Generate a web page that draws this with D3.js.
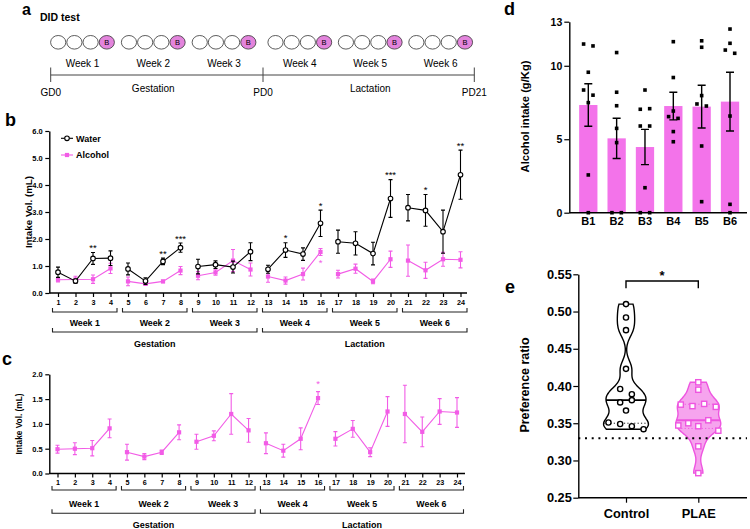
<!DOCTYPE html>
<html>
<head>
<meta charset="utf-8">
<script src="https://cdn.jsdelivr.net/npm/d3@7"></script>
<style>
  body { margin: 0; background: #fff; }
</style>
</head>
<body>
<svg id="fig" width="750" height="529"></svg>
<script>
// ---- data ----
const weekNames = ["Week 1", "Week 2", "Week 3", "Week 4", "Week 5", "Week 6"];
const phaseNames = ["Gestation", "Lactation"];
const timelineLabels = ["GD0", "PD0", "PD21"];
const timelineDays = [0, 21, 42];

const sessions = [1, 2, 3, 4, 5, 6, 7, 8, 9, 10, 11, 12, 13, 14, 15, 16, 17, 18, 19, 20, 21, 22, 23, 24];
const waterMean = [0.77, 0.44, 1.28, 1.29, 0.89, 0.44, 1.17, 1.68, 0.98, 1.05, 0.96, 1.53,
                   0.88, 1.59, 1.44, 2.58, 1.90, 1.84, 1.46, 3.50, 3.16, 3.06, 2.27, 4.38];
const waterErr = [0.19, 0.08, 0.22, 0.27, 0.22, 0.12, 0.12, 0.17, 0.27, 0.14, 0.22, 0.33,
                  0.15, 0.27, 0.23, 0.49, 0.43, 0.43, 0.42, 0.70, 0.49, 0.59, 0.80, 0.91];
const alcMean = [0.49, 0.50, 0.51, 0.91, 0.43, 0.34, 0.43, 0.83, 0.64, 0.76, 1.20, 0.87,
                 0.61, 0.46, 0.70, 1.52, 0.70, 0.90, 0.43, 1.25, 1.20, 0.84, 1.25, 1.23];
const alcErr = [0.08, 0.12, 0.155, 0.19, 0.16, 0.06, 0.045, 0.15, 0.15, 0.10, 0.41, 0.24,
                0.21, 0.13, 0.22, 0.13, 0.145, 0.17, 0.09, 0.30, 0.58, 0.30, 0.26, 0.30];
const sigSessions = [3, 7, 8, 14, 16, 20, 22, 24];
const sigLabels = ["**", "**", "***", "*", "*", "***", "*", "**"];
const alcSigSession = 16;

const bingeLabels = ["B1", "B2", "B3", "B4", "B5", "B6"];
const bingeMean = [7.33, 5.06, 4.47, 7.26, 7.22, 7.56];
const bingeErr = [1.45, 1.37, 1.20, 0.94, 1.45, 2.00];
const bingePoints = [
  [11.48, 11.35, 9.56, 8.35, 8.00, 7.49, 2.57, 0],
  [10.90, 8.20, 7.28, 5.74, 4.77, 0, 0],
  [8.35, 7.04, 7.08, 5.90, 5.90, 1.70, 0, 0],
  [11.64, 9.20, 6.92, 6.54, 6.42, 5.52, 4.83],
  [11.70, 11.26, 7.97, 7.40, 7.26, 4.54, 0.75],
  [12.50, 11.53, 11.07, 10.85, 6.58, 0.57, 0]
];
const bingeTicks = [0, 5, 10, 13];

const groupNames = ["Control", "PLAE"];
const controlRatio = [0.510, 0.492, 0.475, 0.423, 0.396, 0.389, 0.378, 0.381, 0.367, 0.351, 0.349, 0.346, 0.342];
const plaeRatio = [0.405, 0.395, 0.375, 0.373, 0.376, 0.372, 0.347, 0.350, 0.346, 0.354, 0.340, 0.319, 0.283];
const ratioTicks = [0.25, 0.30, 0.35, 0.40, 0.45, 0.50, 0.55];
const chanceRatio = 0.33;

// ---- setup ----
const FONT = "'Liberation Sans', Arial, Helvetica, sans-serif";
const PINK = "#f25ce6";
const BAR_PINK = "#f373ea";
const svg = d3.select("#fig").attr("font-family", FONT);

function panelLetter(x, y, t, size) {
  svg.append("text").attr("x", x).attr("y", y).text(t)
    .attr("font-size", size || 18).attr("font-weight", "bold");
}

function styleAxis(g, size) {
  g.attr("font-family", FONT).attr("font-size", size).attr("font-weight", "bold");
  g.selectAll(".domain").attr("stroke", "#000").attr("stroke-width", 1.4);
  g.selectAll(".tick line").attr("stroke", "#000").attr("stroke-width", 1.2);
  g.selectAll(".tick text").attr("fill", "#000");
}

// bracket drawn as a horizontal line with short upturned ends
function bracket(g, x0, x1, y, h) {
  g.append("path")
    .attr("d", `M${x0},${y - h}V${y}H${x1}V${y - h}`)
    .attr("fill", "none").attr("stroke", "#222").attr("stroke-width", 1.1);
}

// ---- a. timeline ----
panelLetter(22, 15, "a", 16);
svg.append("text").attr("x", 40).attr("y", 21).text("DID test")
  .attr("font-size", 10.5).attr("font-weight", "bold");

const tA = d3.scaleLinear().domain([0, 21, 42]).range([50.7, 263, 474.3]);
const gA = svg.append("g");
weekNames.forEach((w, i) => {
  const left = tA(i * 7) + (i >= 3 ? 5 : 0);
  for (let j = 0; j < 4; j++) {
    const cx = left + 7.5 + j * 16.2;
    gA.append("ellipse").attr("cx", cx).attr("cy", 42.3).attr("rx", 7.6).attr("ry", 6.8)
      .attr("fill", j === 3 ? "#e384dc" : "#fff").attr("stroke", "#333").attr("stroke-width", 0.8);
    if (j === 3) {
      gA.append("text").attr("x", cx).attr("y", 45).text("B")
        .attr("text-anchor", "middle").attr("font-size", 7.5);
    }
  }
  gA.append("text").attr("x", left + 31.8).attr("y", 66.5).text(w)
    .attr("text-anchor", "middle").attr("font-size", 10);
  if (i === 1 || i === 4) {
    gA.append("text").attr("x", left + 31.8).attr("y", 92.3).text(phaseNames[i === 1 ? 0 : 1])
      .attr("text-anchor", "middle").attr("font-size", 10);
  }
});
gA.append("line").attr("x1", tA(0)).attr("x2", tA(42)).attr("y1", 75).attr("y2", 75)
  .attr("stroke", "#444").attr("stroke-width", 1);
timelineDays.forEach((d, i) => {
  gA.append("line").attr("x1", tA(d)).attr("x2", tA(d)).attr("y1", 67.5).attr("y2", 82)
    .attr("stroke", "#444").attr("stroke-width", 1);
  gA.append("text").attr("x", tA(d)).attr("y", 95.5).text(timelineLabels[i])
    .attr("text-anchor", "middle").attr("font-size", 10);
});

// ---- shared drawing for b and c ----
function drawSeries(g, x, y, mean, err, color, marker) {
  weekNames.forEach((w, wi) => {
    const idx = [0, 1, 2, 3].map(k => wi * 4 + k);
    g.append("path")
      .datum(idx)
      .attr("d", d3.line().x(i => x(sessions[i])).y(i => y(mean[i])))
      .attr("fill", "none").attr("stroke", color).attr("stroke-width", 1.1);
  });
  sessions.forEach((s, i) => {
    const cx = x(s), top = y(mean[i] + err[i]), bot = y(mean[i] - err[i]);
    g.append("path")
      .attr("d", `M${cx},${top}V${bot}M${cx - 2},${top}H${cx + 2}M${cx - 2},${bot}H${cx + 2}`)
      .attr("stroke", color).attr("stroke-width", 1.1).attr("fill", "none");
    if (marker === "circle") {
      g.append("circle").attr("cx", cx).attr("cy", y(mean[i])).attr("r", 2.3)
        .attr("fill", "#fff").attr("stroke", color).attr("stroke-width", 1.1);
    } else {
      g.append("rect").attr("x", cx - 2.1).attr("y", y(mean[i]) - 2.1)
        .attr("width", 4.2).attr("height", 4.2).attr("fill", color);
    }
  });
}

function drawSessionAxis(g, x, y0, axisEnd, tickFont, yWeek, yPhase, weekLabelY, phaseLabelY) {
  g.append("line").attr("x1", 49.3).attr("x2", axisEnd).attr("y1", y0).attr("y2", y0)
    .attr("stroke", "#000").attr("stroke-width", 1.4);
  const ax = g.append("g").attr("transform", `translate(0,${y0})`)
    .call(d3.axisBottom(x).tickValues(sessions).tickSize(4).tickSizeOuter(0).tickPadding(2.5));
  ax.select(".domain").remove();
  styleAxis(ax, tickFont);
  weekNames.forEach((w, wi) => {
    const x0 = x(sessions[wi * 4]) - 5.5, x1 = x(sessions[wi * 4 + 3]) + 6.5;
    bracket(g, x0, x1, yWeek, 4);
    g.append("text").attr("x", (x0 + x1) / 2).attr("y", weekLabelY).text(w)
      .attr("text-anchor", "middle").attr("font-size", 8.8).attr("font-weight", "bold");
  });
  phaseNames.forEach((p, pi) => {
    const x0 = x(sessions[pi * 12]) - 5.5, x1 = x(sessions[pi * 12 + 11]) + 6.5;
    bracket(g, x0, x1, yPhase, 4);
    g.append("text").attr("x", (x0 + x1) / 2).attr("y", phaseLabelY).text(p)
      .attr("text-anchor", "middle").attr("font-size", 9).attr("font-weight", "bold");
  });
}

// ---- b. intake volume, water vs alcohol ----
panelLetter(5, 125.7, "b");
const gB = svg.append("g");
const xB = d3.scaleLinear().domain([1, 24]).range([58, 460.5]);
const yB = d3.scaleLinear().domain([0, 6]).range([293, 131]);

const yAxB = gB.append("g").attr("transform", "translate(49.3,0)")
  .call(d3.axisLeft(yB).tickValues([0, 1, 2, 3, 4, 5, 6]).tickSize(4).tickSizeOuter(0).tickPadding(2.5));
styleAxis(yAxB, 7.5);
drawSessionAxis(gB, xB, 293, 467, 7.2, 312, 332, 326, 346.5);

gB.append("text").attr("transform", "translate(31.5,212) rotate(-90)")
  .attr("text-anchor", "middle").text("Intake Vol. (mL)")
  .attr("font-size", 9.8).attr("font-weight", "bold");

drawSeries(gB, xB, yB, alcMean, alcErr, PINK, "square");
drawSeries(gB, xB, yB, waterMean, waterErr, "#000", "circle");

sigSessions.forEach((s, k) => {
  const i = sessions.indexOf(s);
  gB.append("text").attr("x", xB(s)).attr("y", yB(waterMean[i] + waterErr[i]) - 1.5)
    .text(sigLabels[k]).attr("text-anchor", "middle").attr("font-size", 9.5);
});
{
  const i = sessions.indexOf(alcSigSession);
  gB.append("text").attr("x", xB(alcSigSession)).attr("y", yB(alcMean[i] - alcErr[i]) + 11)
    .text("*").attr("text-anchor", "middle").attr("font-size", 9.5).attr("fill", PINK);
}

// legend
const legB = gB.append("g");
[["Water", "#000", "circle", 138.3], ["Alcohol", PINK, "square", 155]].forEach(([name, col, m, ly]) => {
  legB.append("line").attr("x1", 61).attr("x2", 73).attr("y1", ly).attr("y2", ly)
    .attr("stroke", col).attr("stroke-width", 1.1);
  if (m === "circle") {
    legB.append("circle").attr("cx", 67).attr("cy", ly).attr("r", 2.3)
      .attr("fill", "#fff").attr("stroke", col).attr("stroke-width", 1.1);
  } else {
    legB.append("rect").attr("x", 64.9).attr("y", ly - 2.1).attr("width", 4.2).attr("height", 4.2).attr("fill", col);
  }
  legB.append("text").attr("x", 76).attr("y", ly + 3.2).text(name)
    .attr("font-size", 9).attr("font-weight", "bold");
});

// ---- c. alcohol intake volume only ----
panelLetter(2, 365, "c");
const gC = svg.append("g");
const xC = d3.scaleLinear().domain([1, 24]).range([57.5, 457]);
const yC = d3.scaleLinear().domain([0, 2]).range([473.5, 374.3]);

const yAxC = gC.append("g").attr("transform", "translate(49.3,0)")
  .call(d3.axisLeft(yC).tickValues([0, 0.5, 1, 1.5, 2]).tickFormat(d3.format(".1f"))
    .tickSize(4).tickSizeOuter(0).tickPadding(2.5));
styleAxis(yAxC, 7.5);
drawSessionAxis(gC, xC, 473.5, 465, 7.2, 490, 513.3, 506.5, 528);

gC.append("text").attr("transform", "translate(21.5,424) rotate(-90)")
  .attr("text-anchor", "middle").text("Intake Vol. (mL)")
  .attr("font-size", 8.3).attr("font-weight", "bold");

drawSeries(gC, xC, yC, alcMean, alcErr, PINK, "square");
{
  const i = sessions.indexOf(alcSigSession);
  gC.append("text").attr("x", xC(alcSigSession)).attr("y", yC(alcMean[i] + alcErr[i]) - 5)
    .text("*").attr("text-anchor", "middle").attr("font-size", 9.5).attr("fill", PINK);
}

// spread points that sit too close vertically, side by side
function spreadOffsets(values, yScale, minGap, step, maxHalf) {
  const order = d3.range(values.length).sort((i, j) => values[j] - values[i]);
  const groups = [];
  let cur = [order[0]];
  for (let k = 1; k < order.length; k++) {
    const prev = order[k - 1], i = order[k];
    if (Math.abs(yScale(values[prev]) - yScale(values[i])) < minGap) cur.push(i);
    else { groups.push(cur); cur = [i]; }
  }
  groups.push(cur);
  const off = new Array(values.length).fill(0);
  groups.forEach(gr => {
    gr.sort((a, b) => a - b);
    const s = gr.length > 1 ? Math.min(step, 2 * maxHalf / (gr.length - 1)) : 0;
    gr.forEach((i, k) => off[i] = (k - (gr.length - 1) / 2) * s);
  });
  return off;
}

// ---- d. alcohol intake per binge ----
panelLetter(504, 15, "d");
const gD = svg.append("g");
const xD = d3.scalePoint().domain(bingeLabels).range([588.3, 730]);
const yD = d3.scaleLinear().domain([0, 13]).range([212.7, 21.7]);
const barW = 18.3;

gD.selectAll("rect.bar").data(bingeLabels).enter().append("rect")
  .attr("class", "bar")
  .attr("x", d => xD(d) - barW / 2).attr("width", barW)
  .attr("y", (d, i) => yD(bingeMean[i]))
  .attr("height", (d, i) => yD(0) - yD(bingeMean[i]))
  .attr("fill", BAR_PINK);

bingeLabels.forEach((b, i) => {
  const cx = xD(b), top = yD(bingeMean[i] + bingeErr[i]), bot = yD(bingeMean[i] - bingeErr[i]);
  gD.append("path")
    .attr("d", `M${cx},${top}V${bot}M${cx - 4},${top}H${cx + 4}M${cx - 4},${bot}H${cx + 4}`)
    .attr("stroke", "#000").attr("stroke-width", 1.4).attr("fill", "none");
  const off = spreadOffsets(bingePoints[i], yD, 5.3, 9.4, 10);
  bingePoints[i].forEach((v, k) => {
    gD.append("rect").attr("x", cx + off[k] - 1.8).attr("y", yD(v) - 1.8)
      .attr("width", 3.6).attr("height", 3.6).attr("fill", "#000");
  });
});

const yAxD = gD.append("g").attr("transform", "translate(569.3,0)")
  .call(d3.axisLeft(yD).tickValues(bingeTicks).tickSize(5).tickSizeOuter(0).tickPadding(2));
styleAxis(yAxD, 10.5);
gD.append("line").attr("x1", 569.3).attr("x2", 747).attr("y1", 212.7).attr("y2", 212.7)
  .attr("stroke", "#000").attr("stroke-width", 1.4);
gD.selectAll("text.blabel").data(bingeLabels).enter().append("text")
  .attr("x", d => xD(d)).attr("y", 224.5).text(d => d)
  .attr("text-anchor", "middle").attr("font-size", 11).attr("font-weight", "bold");
gD.append("text").attr("transform", "translate(529,116.5) rotate(-90)")
  .attr("text-anchor", "middle").text("Alcohol intake (g/Kg)")
  .attr("font-size", 11.2).attr("font-weight", "bold");

// ---- e. preference ratio violins ----
panelLetter(505, 292.5, "e");
const gE = svg.append("g");
const xE = d3.scalePoint().domain(groupNames).range([626, 698.3]);
const yE = d3.scaleLinear().domain([0.25, 0.55]).range([497.7, 274.3]);

function kdeAt(values, h) {
  return v => d3.sum(values, x => Math.exp(-0.5 * ((v - x) / h) ** 2));
}
function quartile(values, p) {
  const s = values.slice().sort(d3.ascending);
  const pos = (s.length + 1) * p - 1;
  const lo = Math.floor(pos), hi = Math.ceil(pos);
  return s[lo] + (s[hi] - s[lo]) * (pos - lo);
}

function violin(values, name, stroke, fill, markerFn) {
  const cx = xE(name);
  const dens = kdeAt(values, 0.011);
  const lo = d3.min(values), hi = d3.max(values);
  const grid = d3.range(0, 81).map(k => lo + (hi - lo) * k / 80).map(v => [v, dens(v)]);
  const w = d3.scaleLinear().domain([0, d3.max(grid, d => d[1])]).range([0, 22.5]);
  gE.append("path").datum(grid)
    .attr("d", d3.area().curve(d3.curveBasis)
      .y(d => yE(d[0])).x0(d => cx - w(d[1])).x1(d => cx + w(d[1])))
    .attr("fill", fill).attr("stroke", stroke).attr("stroke-width", 1.4);
  [0.25, 0.75].forEach(p => {
    const q = quartile(values, p);
    gE.append("line").attr("x1", cx - w(dens(q))).attr("x2", cx + w(dens(q)))
      .attr("y1", yE(q)).attr("y2", yE(q))
      .attr("stroke", stroke).attr("stroke-width", 0.9).attr("stroke-dasharray", "1.2,2.2");
  });
  const med = quartile(values, 0.5);
  gE.append("line").attr("x1", cx - w(dens(med))).attr("x2", cx + w(dens(med)))
    .attr("y1", yE(med)).attr("y2", yE(med))
    .attr("stroke", stroke).attr("stroke-width", 1.8);
  const off = spreadOffsets(values, yE, 5.6, 11.7, 20);
  values.forEach((v, k) => markerFn(cx + off[k], yE(v)));
}

violin(controlRatio, "Control", "#000", "#fff", (x, y) => {
  gE.append("circle").attr("cx", x).attr("cy", y).attr("r", 2.6)
    .attr("fill", "#fff").attr("stroke", "#000").attr("stroke-width", 1.4);
});
violin(plaeRatio, "PLAE", "#ee55e0", "#f6a4ee", (x, y) => {
  gE.append("rect").attr("x", x - 2.6).attr("y", y - 2.6).attr("width", 5.2).attr("height", 5.2)
    .attr("fill", "#fff").attr("stroke", "#ee55e0").attr("stroke-width", 1.4);
});

gE.append("line").attr("x1", 578.3).attr("x2", 747).attr("y1", yE(chanceRatio)).attr("y2", yE(chanceRatio))
  .attr("stroke", "#000").attr("stroke-width", 2).attr("stroke-dasharray", "2,4.7");

const yAxE = gE.append("g").attr("transform", "translate(578.3,0)")
  .call(d3.axisLeft(yE).tickValues(ratioTicks).tickFormat(d3.format(".2f"))
    .tickSize(5).tickSizeOuter(0).tickPadding(1.5));
styleAxis(yAxE, 12.8);
const xAxE = gE.append("g").attr("transform", "translate(0,497.7)")
  .call(d3.axisBottom(xE).tickSize(5).tickSizeOuter(0).tickPadding(6));
xAxE.select(".domain").remove();
styleAxis(xAxE, 12.8);
gE.append("line").attr("x1", 578.3).attr("x2", 747).attr("y1", 497.7).attr("y2", 497.7)
  .attr("stroke", "#000").attr("stroke-width", 1.4);

gE.append("text").attr("transform", "translate(529,385) rotate(-90)")
  .attr("text-anchor", "middle").text("Preference ratio")
  .attr("font-size", 12.5).attr("font-weight", "bold");

gE.append("path")
  .attr("d", `M${xE("Control")},288.3V281H${xE("PLAE")}V288.3`)
  .attr("fill", "none").attr("stroke", "#000").attr("stroke-width", 1.4);
gE.append("text").attr("x", (xE("Control") + xE("PLAE")) / 2).attr("y", 280)
  .text("*").attr("text-anchor", "middle").attr("font-size", 13).attr("font-weight", "bold");
</script>
</body>
</html>
